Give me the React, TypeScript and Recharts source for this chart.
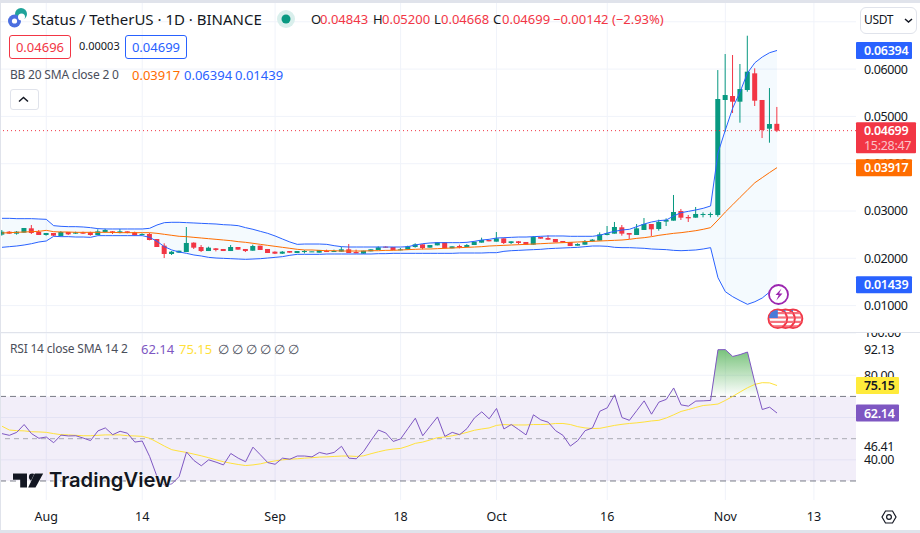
import React from 'react';
import {
  Area,
  Bar,
  CartesianGrid,
  ComposedChart,
  Line,
  ReferenceArea,
  ReferenceLine,
  XAxis,
  YAxis,
} from 'recharts';

const opens = [
  0.025, 0.02563, 0.02521, 0.02542, 0.02634, 0.02556, 0.02493, 0.02535, 0.02472, 0.02556, 0.02521, 0.02549, 0.02549, 0.02493, 0.02556,
  0.0257, 0.02535, 0.0257, 0.02549, 0.02493, 0.02514, 0.02408, 0.02267, 0.02091, 0.02119, 0.02133, 0.02331, 0.02239, 0.02154, 0.02211,
  0.02197, 0.02154, 0.02239, 0.02197, 0.02161, 0.02267, 0.02197, 0.0214, 0.02098, 0.02154, 0.02112, 0.0214, 0.0214, 0.02119, 0.02154,
  0.0214, 0.0214, 0.0219, 0.02133, 0.02098, 0.02147, 0.02176, 0.02246, 0.02239, 0.02176, 0.02183, 0.02239, 0.02295, 0.02225, 0.02274,
  0.02338, 0.02211, 0.0226, 0.02239, 0.02281, 0.02331, 0.02387, 0.02352, 0.02422, 0.02324, 0.02359, 0.02345, 0.02288, 0.0245, 0.02429,
  0.02408, 0.02366, 0.02345, 0.02267, 0.02288, 0.02359, 0.02373, 0.02493, 0.02521, 0.02655, 0.02535, 0.02493, 0.02599, 0.02725, 0.0262,
  0.02775, 0.02796, 0.03, 0.02873, 0.02859, 0.02923, 0.02923, 0.02915, 0.05347, 0.05431, 0.05311, 0.05558, 0.05911, 0.05347, 0.0474,
  0.04843,
];
const highs = [
  0.02599, 0.02577, 0.02577, 0.02641, 0.02704, 0.02599, 0.02535, 0.02535, 0.02577, 0.02556, 0.02563, 0.02563, 0.02563, 0.02613, 0.02627,
  0.02577, 0.0262, 0.0257, 0.02563, 0.02528, 0.02535, 0.02408, 0.02317, 0.02154, 0.02161, 0.02662, 0.02338, 0.02281, 0.02246, 0.02218,
  0.02197, 0.02281, 0.02239, 0.02197, 0.02288, 0.02267, 0.02197, 0.02147, 0.02154, 0.02154, 0.02154, 0.02176, 0.02147, 0.02176, 0.02183,
  0.02183, 0.02246, 0.02302, 0.02183, 0.02161, 0.0219, 0.02253, 0.02253, 0.02239, 0.02218, 0.02267, 0.02317, 0.02295, 0.02281, 0.02338,
  0.02338, 0.02253, 0.02288, 0.02302, 0.02352, 0.02436, 0.02387, 0.02556, 0.02422, 0.02359, 0.02366, 0.02345, 0.02472, 0.0245, 0.02486,
  0.02408, 0.02366, 0.02345, 0.02317, 0.02387, 0.02408, 0.02549, 0.02683, 0.02768, 0.02704, 0.02535, 0.02725, 0.02852, 0.02725, 0.02817,
  0.02845, 0.03339, 0.03043, 0.02916, 0.03085, 0.02972, 0.02972, 0.0598, 0.06319, 0.06298, 0.06108, 0.06706, 0.06017, 0.05347, 0.056,
  0.052,
];
const lows = [
  0.02479, 0.02514, 0.025, 0.02542, 0.02514, 0.02493, 0.02479, 0.02472, 0.02472, 0.02493, 0.02514, 0.02514, 0.02479, 0.02493, 0.02542,
  0.02514, 0.02528, 0.02528, 0.02479, 0.02486, 0.0238, 0.02239, 0.02006, 0.0207, 0.02119, 0.02133, 0.02197, 0.02133, 0.02154, 0.02147,
  0.02154, 0.02154, 0.02183, 0.02133, 0.02161, 0.02176, 0.02112, 0.02091, 0.02091, 0.02119, 0.02112, 0.02105, 0.0214, 0.02119, 0.02133,
  0.02133, 0.0214, 0.02112, 0.02105, 0.02098, 0.02147, 0.02176, 0.02225, 0.02176, 0.02168, 0.02183, 0.02225, 0.0219, 0.02225, 0.02274,
  0.02211, 0.02211, 0.02211, 0.02239, 0.02281, 0.02331, 0.02359, 0.02352, 0.02302, 0.02302, 0.02295, 0.02288, 0.02288, 0.02415, 0.02387,
  0.02338, 0.02331, 0.0226, 0.02267, 0.02288, 0.02352, 0.02373, 0.02486, 0.02521, 0.02479, 0.02408, 0.02493, 0.02599, 0.02472, 0.02584,
  0.02683, 0.02796, 0.0281, 0.02768, 0.02859, 0.02866, 0.02866, 0.0288, 0.04677, 0.05072, 0.04867, 0.05522, 0.0522, 0.04543, 0.04444,
  0.04668,
];
const closes = [
  0.02563, 0.02521, 0.02563, 0.02641, 0.02535, 0.02493, 0.02535, 0.02479, 0.02556, 0.02507, 0.02549, 0.02521, 0.02493, 0.0257, 0.02599,
  0.02535, 0.0257, 0.02535, 0.02486, 0.02514, 0.02387, 0.02239, 0.02091, 0.0214, 0.02161, 0.02324, 0.02225, 0.02154, 0.02225, 0.02176,
  0.02154, 0.02239, 0.02183, 0.02154, 0.0226, 0.02176, 0.02112, 0.02098, 0.0214, 0.02119, 0.02154, 0.02154, 0.02147, 0.02176, 0.0214,
  0.02154, 0.0219, 0.02112, 0.02105, 0.02161, 0.0219, 0.02232, 0.02225, 0.02176, 0.0219, 0.02253, 0.02295, 0.02218, 0.02281, 0.02338,
  0.02211, 0.02253, 0.02232, 0.02281, 0.02352, 0.02387, 0.02359, 0.02422, 0.02324, 0.02359, 0.02324, 0.02288, 0.0245, 0.02415, 0.02394,
  0.02338, 0.02331, 0.0226, 0.02302, 0.02359, 0.02394, 0.02507, 0.02528, 0.02662, 0.02521, 0.025, 0.02634, 0.02725, 0.02613, 0.02768,
  0.0281, 0.02979, 0.02859, 0.02845, 0.02937, 0.02937, 0.02937, 0.05368, 0.05452, 0.05311, 0.05579, 0.05945, 0.05332, 0.04712, 0.04839,
  0.04699,
];
const bbUpper = [
  0.02845, 0.02845, 0.02838, 0.02838, 0.02838, 0.02831, 0.02824, 0.0269, 0.02676, 0.02669, 0.02669, 0.02662, 0.02648, 0.02627, 0.0262,
  0.0262, 0.0262, 0.0262, 0.0262, 0.0262, 0.02634, 0.02704, 0.02754, 0.02761, 0.02761, 0.02754, 0.02747, 0.02739, 0.02732, 0.02725,
  0.02711, 0.02704, 0.0269, 0.02648, 0.02613, 0.0257, 0.02528, 0.02472, 0.02408, 0.02345, 0.02295, 0.02302, 0.02302, 0.02302, 0.02295,
  0.02267, 0.02246, 0.02239, 0.02239, 0.02239, 0.02239, 0.02239, 0.02239, 0.02239, 0.02239, 0.02246, 0.02281, 0.02309, 0.02324, 0.02331,
  0.02331, 0.02331, 0.02331, 0.02338, 0.02359, 0.02387, 0.02401, 0.02429, 0.02436, 0.02443, 0.0245, 0.0245, 0.02458, 0.02465, 0.02472,
  0.02472, 0.02472, 0.02465, 0.02465, 0.02465, 0.02465, 0.02486, 0.02535, 0.0257, 0.02599, 0.02613, 0.02669, 0.02725, 0.02768, 0.02796,
  0.0281, 0.02895, 0.02965, 0.02993, 0.03022, 0.03057, 0.03106, 0.04226, 0.04712, 0.05178, 0.05522, 0.05918, 0.06135, 0.06256, 0.06347,
  0.06394,
];
const bbBasis = [
  0.02535, 0.02542, 0.02549, 0.02556, 0.02563, 0.0257, 0.02591, 0.02563, 0.02556, 0.02556, 0.02549, 0.02549, 0.02549, 0.02549, 0.02549,
  0.02549, 0.02542, 0.02542, 0.02542, 0.02542, 0.02542, 0.02528, 0.02507, 0.02486, 0.02465, 0.02458, 0.02443, 0.02429, 0.02415, 0.02401,
  0.02387, 0.02373, 0.02352, 0.02338, 0.02317, 0.02295, 0.02274, 0.02253, 0.02232, 0.02211, 0.0219, 0.02176, 0.02176, 0.02168, 0.02161,
  0.02161, 0.02154, 0.02154, 0.02154, 0.02154, 0.02161, 0.02161, 0.02168, 0.02168, 0.02176, 0.02183, 0.0219, 0.02197, 0.02197, 0.02204,
  0.02211, 0.02218, 0.02225, 0.02232, 0.02239, 0.02246, 0.0226, 0.02267, 0.02274, 0.02281, 0.02288, 0.02295, 0.02302, 0.02309, 0.02317,
  0.02324, 0.02331, 0.02338, 0.02345, 0.02352, 0.02359, 0.02366, 0.02373, 0.0238, 0.02387, 0.02401, 0.02422, 0.02436, 0.02458, 0.02486,
  0.02507, 0.02528, 0.02542, 0.02563, 0.02584, 0.02613, 0.02648, 0.0281, 0.02979, 0.03133, 0.0329, 0.03444, 0.03598, 0.03706, 0.03814,
  0.03917,
];
const bbLower = [
  0.02232, 0.02246, 0.0226, 0.02281, 0.02309, 0.02345, 0.02366, 0.02465, 0.02458, 0.02458, 0.0245, 0.0245, 0.02443, 0.02479, 0.02479,
  0.02479, 0.02479, 0.02479, 0.02479, 0.02479, 0.02443, 0.02359, 0.02246, 0.02176, 0.02133, 0.02105, 0.0207, 0.02049, 0.0202, 0.02006,
  0.01999, 0.01992, 0.01985, 0.01978, 0.01985, 0.01992, 0.02006, 0.0202, 0.02035, 0.02063, 0.02084, 0.02084, 0.02084, 0.02084, 0.02091,
  0.02091, 0.02091, 0.02091, 0.02091, 0.02091, 0.02091, 0.02098, 0.02098, 0.02105, 0.02105, 0.02105, 0.02105, 0.02105, 0.02105, 0.02105,
  0.02105, 0.02105, 0.02112, 0.02112, 0.02112, 0.02112, 0.02119, 0.02119, 0.02147, 0.02161, 0.02168, 0.02176, 0.02183, 0.0219, 0.02204,
  0.02211, 0.02218, 0.02225, 0.02232, 0.02246, 0.0226, 0.0226, 0.02253, 0.02232, 0.02225, 0.02225, 0.02218, 0.02211, 0.02197, 0.0219,
  0.02183, 0.02168, 0.02161, 0.02168, 0.02176, 0.02197, 0.02225, 0.0159, 0.01294, 0.01188, 0.01104, 0.01027, 0.01082, 0.01161, 0.01288,
  0.01439,
];
const rsiValues = [
  52.4, 51.6, 53.0, 56.7, 52.4, 50.2, 50.8, 48.1, 51.7, 51.3, 51.4, 50.3, 49.1, 53.7, 55.1, 51.9, 53.5, 52.6, 48.4, 48.9, 41.6, 32.1, 28.0,
  28.6, 32.1, 43.7, 39.7, 37.2, 40.0, 38.9, 37.6, 43.0, 40.8, 39.1, 46.0, 42.4, 38.7, 37.9, 40.8, 40.3, 41.8, 41.8, 41.4, 43.5, 42.7, 43.5,
  46.41, 40.8, 40.5, 44.0, 49.2, 54.1, 52.7, 48.7, 49.9, 54.8, 59.7, 51.4, 55.9, 60.3, 51.1, 53.0, 51.9, 54.8, 59.8, 62.7, 59.4, 64.3, 54.6,
  56.7, 54.3, 51.8, 61.3, 58.9, 57.8, 53.8, 51.6, 46.5, 49.1, 53.8, 55.1, 63.0, 64.6, 70.8, 60.0, 58.7, 63.3, 67.9, 61.6, 67.3, 68.6, 74.0,
  66.0, 65.4, 67.8, 67.9, 68.1, 92.1, 92.13, 88.9, 89.8, 91.0, 76.5, 63.8, 64.9, 62.14,
];
const rsiMa = [
  55.9, 54.1, 53.8, 53.7, 53.3, 53.2, 53.0, 52.4, 51.9, 51.8, 51.6, 51.4, 51.4, 51.6, 51.8, 51.8, 51.8, 51.4, 51.3, 51.1, 50.2, 48.4, 46.5,
  44.8, 44.1, 43.5, 42.7, 41.9, 41.0, 40.0, 39.1, 38.4, 37.8, 37.3, 37.6, 38.1, 38.9, 39.5, 40.0, 40.3, 40.5, 40.8, 41.0, 41.3, 41.4, 41.6,
  41.8, 41.8, 41.6, 41.9, 42.9, 43.8, 44.6, 45.1, 45.4, 46.5, 47.8, 48.4, 49.4, 50.5, 50.8, 51.4, 52.1, 53.0, 54.0, 54.6, 55.1, 56.3, 56.7,
  56.5, 56.5, 56.5, 56.7, 56.7, 56.8, 57.2, 57.2, 56.7, 55.7, 55.1, 54.8, 54.9, 55.6, 56.3, 56.8, 57.2, 57.5, 57.9, 58.4, 58.7, 59.8, 61.3,
  62.9, 63.8, 64.8, 65.7, 66.0, 66.4, 68.1, 70.0, 72.1, 74.1, 75.7, 76.5, 76.4, 75.15,
];

const timeTicks = [6, 19, 37, 54, 67, 82, 98, 110];
const timeLabels = ['Aug', '14', 'Sep', '18', 'Oct', '16', 'Nov', '13'];
const priceTicks = [0.06, 0.05, 0.04, 0.03, 0.02, 0.01];
const priceGrid = [0.07, 0.06, 0.05, 0.04, 0.03, 0.02, 0.01];
const rsiTicks = [100, 92.13, 80, 46.41, 40];
const rsiGrid = [100, 80, 60, 40];

const UP = '#089981';
const DOWN = '#f23645';
const BLUE = '#2962ff';
const ORANGE = '#ff6d00';
const PURPLE = '#7e57c2';
const YELLOW = '#ffe13b';
const GRID = '#f0f3fa';
const TEXT = '#131722';
const FONT = '"Noto Sans", sans-serif';
const DAY_DOMAIN = [-0.27, 115.7];
const PRICE_DOMAIN = [0.00442, 0.07461];
const RSI_DOMAIN = [21, 100];
const AXIS_TICK = { fontSize: 12.5, fill: TEXT, fontFamily: FONT, letterSpacing: -0.4 };

const candles = opens.map((open, i) => ({
  day: i,
  open,
  close: closes[i],
  high: highs[i],
  low: lows[i],
  wick: [lows[i], highs[i]],
  band: [bbLower[i], bbUpper[i]],
  upper: bbUpper[i],
  basis: bbBasis[i],
  lower: bbLower[i],
}));

const rsiRows = rsiValues.map((rsi, i) => ({
  day: i,
  rsi,
  ma: rsiMa[i],
  over: [70, Math.max(rsi, 70)],
}));

function Candle(props: any) {
  const { x, y, width, height, payload } = props;
  const { open, close, high, low } = payload;
  const perUnit = height / (high - low);
  const top = y + (high - Math.max(open, close)) * perUnit;
  const bodyH = Math.max(Math.abs(open - close) * perUnit, 1);
  const color = close >= open ? UP : DOWN;
  const mid = x + width / 2;
  return (
    <g>
      <rect x={mid - 0.5} y={y} width={1} height={height} fill={color} />
      <rect x={x} y={top} width={width} height={bodyH} fill={color} />
    </g>
  );
}

function AxisTag(props: any) {
  const { viewBox, text, sub, bg, color = '#fff', w = 56 } = props;
  const cy = viewBox.y;
  const x = viewBox.x + viewBox.width;
  const h = sub ? 31 : 17;
  return (
    <g>
      <rect x={x} y={cy - 8.5} width={w} height={h} rx={1} fill={bg} />
      <text x={x + 8} y={cy + 4.5} fontSize={12.5} letterSpacing={-0.3} fontWeight={600} fontFamily={FONT} fill={color}>
        {text}
      </text>
      {sub && (
        <text x={x + 8} y={cy + 19} fontSize={12.5} letterSpacing={-0.3} fontFamily={FONT} fill="#fbc2c7">
          {sub}
        </text>
      )}
    </g>
  );
}

function Txt(props: { x: number; y: number; color?: string; size?: number; spacing?: number; children: React.ReactNode }) {
  const { x, y, color = '#4a4e5a', size = 13, spacing = 0, children } = props;
  return (
    <div
      style={{
        position: 'absolute',
        left: x,
        top: y - 10,
        lineHeight: '20px',
        height: 20,
        fontSize: size,
        letterSpacing: spacing,
        color,
        whiteSpace: 'nowrap',
        fontFamily: FONT,
      }}
    >
      {children}
    </div>
  );
}

function Box(props: { x: number; w: number; color: string; text: string }) {
  return (
    <div
      style={{
        position: 'absolute',
        left: props.x,
        top: 35,
        width: props.w,
        height: 22,
        border: `1px solid ${props.color}`,
        borderRadius: 3,
        fontSize: 13,
        lineHeight: '22px',
        textAlign: 'center',
        color: props.color,
        fontFamily: FONT,
      }}
    >
      {props.text}
    </div>
  );
}

function UsFlag({ cx, id }: { cx: number; id: string }) {
  return (
    <g>
      <clipPath id={id}>
        <circle cx={cx} cy={318.7} r={9} />
      </clipPath>
      <circle cx={cx} cy={318.7} r={9.3} fill="#fff" stroke={DOWN} strokeWidth={2} />
      <g clipPath={`url(#${id})`} fill="#f5737f">
        <rect x={cx - 10} y={312} width={20} height={2.2} />
        <rect x={cx - 10} y={316.4} width={20} height={2.2} />
        <rect x={cx - 10} y={320.8} width={20} height={2.2} />
        <rect x={cx - 10} y={325.2} width={20} height={2.2} />
        <rect x={cx - 10} y={309} width={10} height={9} fill="#4a7bd8" />
      </g>
    </g>
  );
}

function Markers() {
  return (
    <svg width={920} height={533} style={{ position: 'absolute', left: 0, top: 0, pointerEvents: 'none' }}>
      {/* logo */}
      <circle cx={21} cy={14} r={6} fill="#1fa39a" />
      <circle cx={14.5} cy={21} r={6.5} fill="#4c6fe0" />
      <circle cx={21.5} cy={17} r={3.5} fill="#fff" />
      <circle cx={14.5} cy={21} r={2.6} fill="#fff" />
      {/* market open dot */}
      <circle cx={286} cy={19} r={9} fill="#d9efec" />
      <circle cx={286} cy={19} r={4.5} fill={UP} />
      {/* chevron in the collapse button */}
      <path d="M19 101.5l4.5-4 4.5 4" fill="none" stroke={TEXT} strokeWidth={1.5} />
      {/* symbol box chevron */}
      <path d="M905 19l3.5 3 3.5-3" fill="none" stroke={TEXT} strokeWidth={1.5} />
      {/* events */}
      <UsFlag cx={793} id="flag3" />
      <UsFlag cx={785.5} id="flag2" />
      <UsFlag cx={777.8} id="flag1" />
      <circle cx={778.5} cy={294.5} r={9.5} fill="#fff" stroke="#9c27b0" strokeWidth={1.8} />
      <path d="M781.5 288.5l-6 6.6h3.2l-2.4 5.4 6.2-7h-3.4z" fill="#9c27b0" />
      {/* settings */}
      <path d="M885.5 511h7l3.5 6-3.5 6h-7l-3.5-6z" fill="none" stroke={TEXT} strokeWidth={1.2} />
      <circle cx={889} cy={517} r={2.4} fill="none" stroke={TEXT} strokeWidth={1.2} />
      {/* TradingView mark */}
      <g transform="translate(13 473)" fill="#131722" stroke="#fff" strokeWidth={0.6} paintOrder="stroke">
        <path d="M14 14.5H7.2V6.8H0V0.5h14z" />
        <circle cx={19.3} cy={4} r={3.4} />
        <path d="M22.5 14.5h-7.3L21.8 0.5h8.4z" />
      </g>
    </svg>
  );
}

export default function App() {
  return (
    <div style={{ position: 'relative', width: 920, height: 533, background: '#fff', overflow: 'hidden', fontFamily: FONT }}>
      <style>{'body{margin:0}'}</style>

      <div style={{ position: 'absolute', left: 0, top: 0 }}>
        <ComposedChart width={920} height={332} data={candles} margin={{ top: 0, right: 0, bottom: 0, left: 0 }}>
          <CartesianGrid stroke={GRID} horizontalValues={priceGrid} verticalValues={timeTicks} />
          <XAxis dataKey="day" type="number" domain={DAY_DOMAIN} allowDataOverflow ticks={timeTicks} hide />
          <YAxis
            orientation="right"
            width={64}
            domain={PRICE_DOMAIN}
            ticks={priceTicks}
            interval={0}
            axisLine={false}
            tickLine={false}
            tickMargin={2}
            tick={AXIS_TICK}
            tickFormatter={(v: number) => v.toFixed(5)}
          />
          <Area dataKey="band" type="linear" stroke="none" fill="#2196f3" fillOpacity={0.05} isAnimationActive={false} />
          <Line dataKey="upper" type="linear" stroke={BLUE} strokeWidth={1} dot={false} isAnimationActive={false} />
          <Line dataKey="lower" type="linear" stroke={BLUE} strokeWidth={1} dot={false} isAnimationActive={false} />
          <Line dataKey="basis" type="linear" stroke={ORANGE} strokeWidth={1} dot={false} isAnimationActive={false} />
          <Bar dataKey="wick" barSize={5} shape={<Candle />} isAnimationActive={false} />
          <ReferenceLine y={0.04699} stroke={DOWN} strokeDasharray="1 3" />
        </ComposedChart>
      </div>

      <div style={{ position: 'absolute', left: 0, top: 333 }}>
        <ComposedChart width={920} height={197} data={rsiRows} margin={{ top: 0, right: 0, bottom: 0, left: 0 }}>
          <defs>
            <linearGradient id="rsiOver" x1="0" y1="0" x2="0" y2="1">
              <stop offset="0%" stopColor="#4caf50" stopOpacity={0.75} />
              <stop offset="100%" stopColor="#4caf50" stopOpacity={0} />
            </linearGradient>
          </defs>
          <CartesianGrid stroke={GRID} horizontalValues={rsiGrid} verticalValues={timeTicks} />
          <XAxis
            dataKey="day"
            type="number"
            height={30}
            domain={DAY_DOMAIN}
            allowDataOverflow
            ticks={timeTicks}
            interval={0}
            axisLine={false}
            tickLine={false}
            tickMargin={6}
            tick={{ ...AXIS_TICK, letterSpacing: 0 }}
            tickFormatter={(v: number) => timeLabels[timeTicks.indexOf(v)]}
          />
          <YAxis
            orientation="right"
            width={64}
            domain={RSI_DOMAIN}
            ticks={rsiTicks}
            interval={0}
            axisLine={false}
            tickLine={false}
            tickMargin={2}
            tick={AXIS_TICK}
            tickFormatter={(v: number) => v.toFixed(2)}
          />
          <ReferenceArea y1={30} y2={70} fill={PURPLE} fillOpacity={0.1} stroke="none" />
          <ReferenceLine y={70} stroke="#787b86" strokeDasharray="6 4" />
          <ReferenceLine y={50} stroke="#a9abb3" strokeDasharray="5 4" />
          <ReferenceLine y={30} stroke="#787b86" strokeDasharray="6 4" />
          <Area dataKey="over" type="linear" stroke="none" fill="url(#rsiOver)" fillOpacity={1} isAnimationActive={false} />
          <Line dataKey="ma" type="linear" stroke={YELLOW} strokeWidth={1} dot={false} isAnimationActive={false} />
          <Line dataKey="rsi" type="linear" stroke={PURPLE} strokeWidth={1} dot={false} isAnimationActive={false} />
        </ComposedChart>
      </div>

      {/* price tags sit in overlay charts so they paint above the axis ticks */}
      <div style={{ position: 'absolute', left: 0, top: 0 }}>
        <ComposedChart width={920} height={332} data={candles} margin={{ top: 0, right: 0, bottom: 0, left: 0 }}>
          <XAxis dataKey="day" type="number" domain={DAY_DOMAIN} allowDataOverflow hide />
          <YAxis orientation="right" width={64} domain={PRICE_DOMAIN} tick={false} axisLine={false} tickLine={false} />
          <Line dataKey="basis" stroke="none" dot={false} isAnimationActive={false} />
          <ReferenceLine y={0.06394} stroke="none" label={<AxisTag text="0.06394" bg={BLUE} />} />
          <ReferenceLine y={0.01439} stroke="none" label={<AxisTag text="0.01439" bg={BLUE} />} />
          <ReferenceLine y={0.04699} stroke="none" label={<AxisTag text="0.04699" sub="15:28:47" bg={DOWN} w={60} />} />
          <ReferenceLine y={0.03917} stroke="none" label={<AxisTag text="0.03917" bg={ORANGE} />} />
        </ComposedChart>
      </div>
      <div style={{ position: 'absolute', left: 0, top: 333 }}>
        <ComposedChart width={920} height={167} data={rsiRows} margin={{ top: 0, right: 0, bottom: 0, left: 0 }}>
          <XAxis dataKey="day" type="number" domain={DAY_DOMAIN} allowDataOverflow hide />
          <YAxis orientation="right" width={64} domain={RSI_DOMAIN} tick={false} axisLine={false} tickLine={false} />
          <Line dataKey="ma" stroke="none" dot={false} isAnimationActive={false} />
          <ReferenceLine y={75.15} stroke="none" label={<AxisTag text="75.15" bg="#ffeb3b" color={TEXT} w={43} />} />
          <ReferenceLine y={62.14} stroke="none" label={<AxisTag text="62.14" bg={PURPLE} w={43} />} />
        </ComposedChart>
      </div>

      {/* frame */}
      <div style={{ position: 'absolute', left: 0, top: 0, width: 920, height: 3, background: '#e0e3eb' }} />
      <div style={{ position: 'absolute', left: 0, top: 0, width: 1, height: 533, background: '#e0e3eb' }} />
      <div style={{ position: 'absolute', left: 0, top: 332, width: 920, height: 1, background: '#e0e3eb' }} />
      <div style={{ position: 'absolute', left: 0, top: 530, width: 920, height: 3, background: '#e0e3eb' }} />

      {/* legend rows */}
      <Txt x={32} y={19} size={15} color={TEXT}>Status / TetherUS · 1D · BINANCE</Txt>
      <Txt x={311} y={19} color={TEXT}>O</Txt>
      <Txt x={320} y={19} color={DOWN}>0.04843</Txt>
      <Txt x={373} y={19} color={TEXT}>H</Txt>
      <Txt x={382} y={19} color={DOWN}>0.05200</Txt>
      <Txt x={434} y={19} color={TEXT}>L</Txt>
      <Txt x={441} y={19} color={DOWN}>0.04668</Txt>
      <Txt x={493} y={19} color={TEXT}>C</Txt>
      <Txt x={502} y={19} color={DOWN}>0.04699</Txt>
      <Txt x={553} y={19} color={DOWN}>−0.00142 (−2.93%)</Txt>
      <Box x={9} w={60} color={DOWN} text="0.04696" />
      <Txt x={79} y={46} size={11} color={TEXT}>0.00003</Txt>
      <Box x={125} w={60} color={BLUE} text="0.04699" />
      <Txt x={10} y={75} size={12} spacing={-0.2}>BB 20 SMA close 2 0</Txt>
      <Txt x={132} y={75} color={ORANGE}>0.03917</Txt>
      <Txt x={184} y={75} color={BLUE}>0.06394</Txt>
      <Txt x={235} y={75} color={BLUE}>0.01439</Txt>
      <div style={{ position: 'absolute', left: 10, top: 89, width: 27, height: 19, border: '1px solid #e0e3eb', borderRadius: 3, background: '#fff' }} />
      <div style={{ position: 'absolute', left: 860, top: 7, width: 55, height: 25, border: '1px solid #e0e3eb', borderRadius: 6, background: '#fff' }} />
      <Txt x={864} y={20} size={12} spacing={-0.3} color={TEXT}>USDT</Txt>

      <Txt x={10} y={349} size={12} spacing={-0.2}>RSI 14 close SMA 14 2</Txt>
      <Txt x={141} y={349} color={PURPLE}>62.14</Txt>
      <Txt x={179} y={349} color={YELLOW}>75.15</Txt>
      {[218, 232, 246, 260, 274, 288].map((x) => (
        <Txt key={x} x={x} y={349}>∅</Txt>
      ))}

      <Markers />
      <div
        style={{
          position: 'absolute',
          left: 49,
          top: 465,
          fontFamily: 'Inter, sans-serif',
          fontWeight: 600,
          fontSize: 20.2,
          lineHeight: '30px',
          color: '#131722',
          textShadow: '0 0 2px #fff, 0 0 2px #fff',
        }}
      >
        TradingView
      </div>
    </div>
  );
}
